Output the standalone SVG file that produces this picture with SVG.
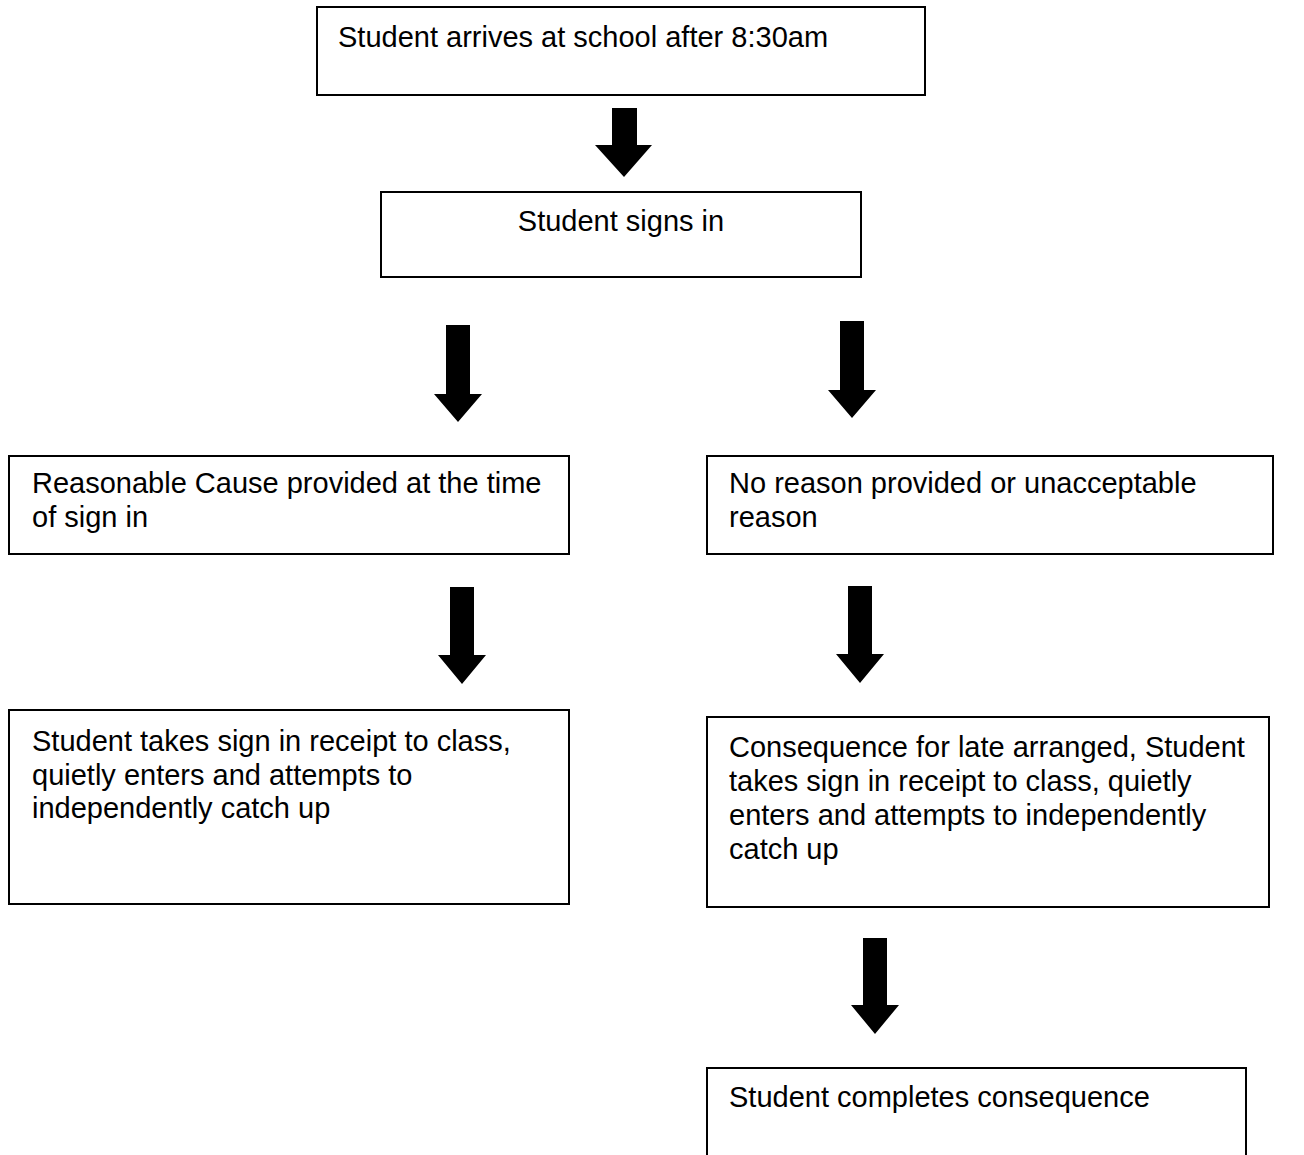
<svg xmlns="http://www.w3.org/2000/svg" width="1304" height="1155" viewBox="0 0 1304 1155">
<style>
.box{fill:#fff;stroke:#000;stroke-width:2}
.t{font-family:"Liberation Sans",Arial,sans-serif;font-size:29px;fill:#000}
.arr{fill:#000}
</style>
<rect x="0" y="0" width="1304" height="1155" fill="#fff"/>
<g id="connectors">
<path class="arr" d="M612,108 H637 V145 H652 L624,177 L595,145 H612 Z"/>
<path class="arr" d="M446,325 H470 V394 H482 L458,422 L434,394 H446 Z"/>
<path class="arr" d="M840,321 H864 V390 H876 L852,418 L828,390 H840 Z"/>
<path class="arr" d="M450,587 H474 V655 H486 L462,684 L438,655 H450 Z"/>
<path class="arr" d="M848,586 H872 V654 H884 L860,683 L836,654 H848 Z"/>
<path class="arr" d="M863,938 H887 V1005 H899 L875,1034 L851,1005 H863 Z"/>
</g>
<g id="n1"><rect class="box" x="317" y="7" width="608" height="88"/><text class="t" x="338" y="47">Student arrives at school after 8:30am</text></g>
<g id="n2"><rect class="box" x="381" y="192" width="480" height="85"/><text class="t" x="621" y="231" text-anchor="middle">Student signs in</text></g>
<g id="n3"><rect class="box" x="9" y="456" width="560" height="98"/><text class="t" x="32" y="493">Reasonable Cause provided at the time</text><text class="t" x="32" y="527">of sign in</text></g>
<g id="n4"><rect class="box" x="707" y="456" width="566" height="98"/><text class="t" x="729" y="493">No reason provided or unacceptable</text><text class="t" x="729" y="527">reason</text></g>
<g id="n5"><rect class="box" x="9" y="710" width="560" height="194"/><text class="t" x="32" y="751">Student takes sign in receipt to class,</text><text class="t" x="32" y="785">quietly enters and attempts to</text><text class="t" x="32" y="818">independently catch up</text></g>
<g id="n6"><rect class="box" x="707" y="717" width="562" height="190"/><text class="t" x="729" y="757">Consequence for late arranged, Student</text><text class="t" x="729" y="791">takes sign in receipt to class, quietly</text><text class="t" x="729" y="825">enters and attempts to independently</text><text class="t" x="729" y="859">catch up</text></g>
<g id="n7"><rect class="box" x="707" y="1068" width="539" height="100"/><text class="t" x="729" y="1107">Student completes consequence</text></g>
</svg>
